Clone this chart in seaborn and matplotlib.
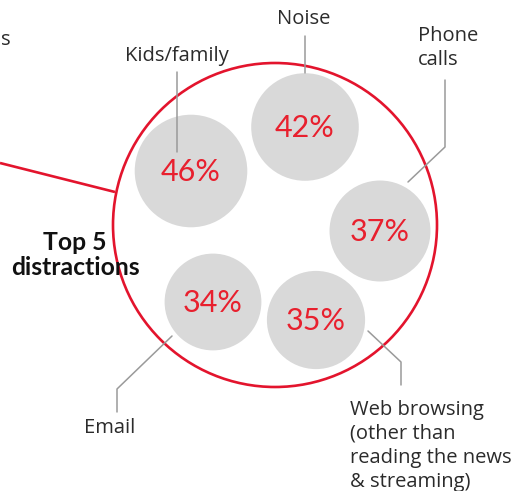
import matplotlib
matplotlib.use("Agg")
import matplotlib.pyplot as plt
from matplotlib.patches import Circle
import seaborn as sns
import pandas as pd

# ---- data ----
categories = ["Kids/family", "Noise", "Phone calls", "Email", "Web browsing"]
values = [46, 42, 37, 34, 35]
value_labels = ["46%", "42%", "37%", "34%", "35%"]

# ---- layout (pixel space) ----
pos_x = [191, 305, 380, 213, 316]
pos_y = [171, 127, 231, 302, 320]

sns.set_theme(style="white")
plt.rcParams['font.family'] = ['Open Sans', 'DejaVu Sans']

W, H, DPI = 525, 491, 100
fig = plt.figure(figsize=(W / DPI, H / DPI), dpi=DPI)
ax = fig.add_axes([0, 0, 1, 1])
ax.set_xlim(0, W)
ax.set_ylim(H, 0)
ax.set_aspect('equal')
ax.axis('off')

RED = "#e3142d"
GRAY_LINE = "#9a9a9a"
TXT = "#2b2b2b"

df = pd.DataFrame({"cat": categories, "val": values, "x": pos_x, "y": pos_y})

# big red outline circle
ax.add_patch(Circle((275, 225), 162, fill=False, edgecolor=RED, lw=1.9, zorder=3))
# red connector line from left
ax.plot([0, 115], [163, 192], color=RED, lw=1.9, zorder=3, solid_capstyle='butt')

# gray bubbles sized by value (area proportional)
k = (1.44 * 8.3) ** 2
sns.scatterplot(data=df, x="x", y="y", size="val", size_norm=(0, 50),
                sizes=(0, k * 50), color="#d9d9d9", edgecolor="none",
                legend=False, ax=ax, zorder=2)

for lab, x, y in zip(value_labels, pos_x, pos_y):
    ax.text(x, y + 1, lab, color="#e8202e", fontsize=22, fontfamily=['Lato', 'DejaVu Sans'],
            ha='center', va='center', zorder=5)

# leader lines
lw = 1.1
ax.plot([177, 177], [72, 152], color=GRAY_LINE, lw=lw, zorder=4)
ax.plot([305, 305], [36, 73], color=GRAY_LINE, lw=lw, zorder=4)
ax.plot([445, 445, 408], [80, 147, 182], color=GRAY_LINE, lw=lw, zorder=4)
ax.plot([117, 117, 172], [412, 389, 336], color=GRAY_LINE, lw=lw, zorder=4)
ax.plot([368, 401, 401], [331, 362, 385], color=GRAY_LINE, lw=lw, zorder=4)

fs = 14.5
ax.text(177, 56, "Kids/family", color=TXT, fontsize=fs, ha='center', va='center')
ax.text(304, 19, "Noise", color=TXT, fontsize=fs, ha='center', va='center')
ax.text(418, 48, "Phone\ncalls", color=TXT, fontsize=fs, ha='left', va='center',
        linespacing=1.27)
ax.text(110, 428, "Email", color=TXT, fontsize=fs, ha='center', va='center')
ax.text(350, 446, "Web browsing\n(other than\nreading the news\n& streaming)",
        color=TXT, fontsize=fs, ha='left', va='center', linespacing=1.27)
ax.text(75, 255, "Top 5\ndistractions", color="#111111", fontsize=17.8,
        fontweight='bold', fontfamily=['Lato', 'DejaVu Sans'],
        ha='center', va='center', linespacing=1.15)
ax.text(0.5, 40, "s", color=TXT, fontsize=fs, ha='left', va='center')

fig.savefig("out.png", dpi=DPI)
